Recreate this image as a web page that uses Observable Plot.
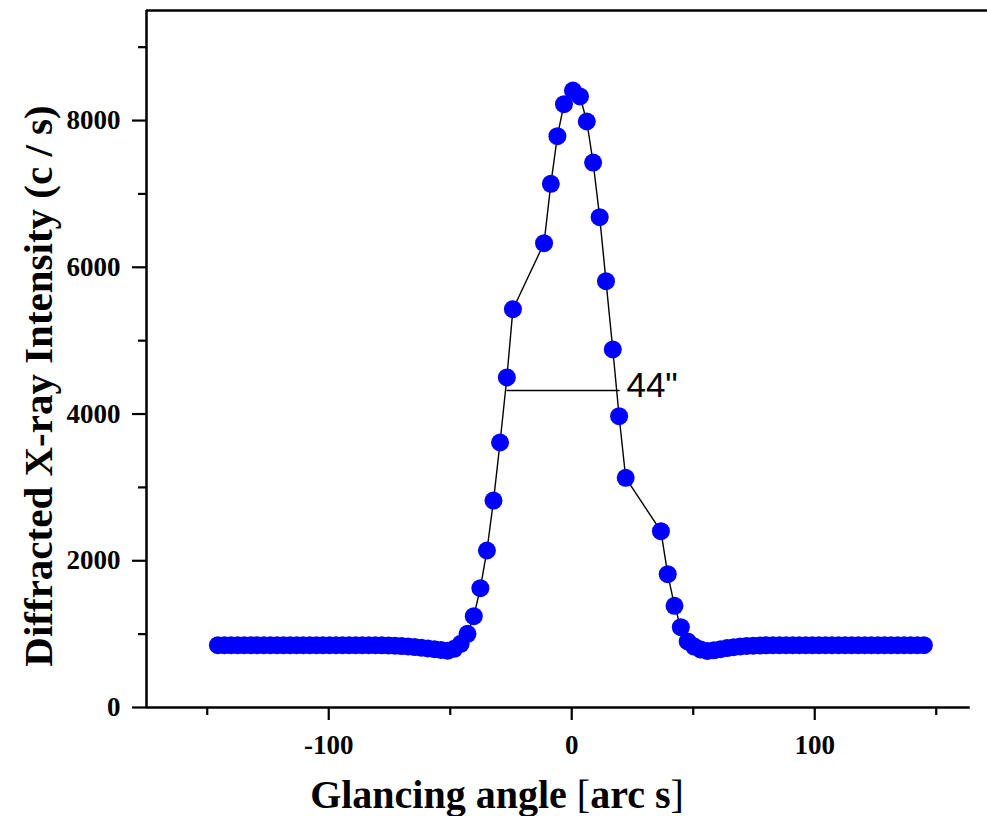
<!DOCTYPE html>
<html>
<head>
<meta charset="utf-8">
<script src="https://cdn.jsdelivr.net/npm/d3@7"></script>
<script src="https://cdn.jsdelivr.net/npm/@observablehq/plot@0.6"></script>
<style>
  html, body { margin: 0; padding: 0; background: #fff; }
  #chart svg { display: block; }
</style>
</head>
<body>
<div id="chart"></div>
<script>
// ---- data ----
const angles = [
  -145.6, -142.9, -140.2, -137.5, -134.8, -132.1, -129.4, -126.7, -124.0, -121.3,
  -118.6, -115.9, -113.2, -110.5, -107.8, -105.1, -102.4, -99.7, -97.0, -94.3,
  -91.6, -88.9, -86.2, -83.5, -80.8, -78.1, -75.4, -72.7, -70.0, -67.3,
  -64.6, -61.9, -59.2, -56.5, -53.8, -51.1, -48.4,
  -45.7, -42.9, -40.3, -37.6, -34.9, -32.2, -29.5, -26.7, -24.2,
  -11.4, -8.6, -5.9, -3.2, 0.5, 3.4, 6.2, 8.8, 11.5, 14.1, 16.9, 19.5, 22.2,
  36.7, 39.5, 42.3, 44.9,
  47.7, 50.4, 53.1, 55.8, 58.5, 61.2, 63.9, 66.6, 69.3, 72.0,
  74.7, 77.4, 80.1, 82.8, 85.5, 88.2, 90.9, 93.6, 96.3, 99.0,
  101.7, 104.4, 107.1, 109.8, 112.5, 115.2, 117.9, 120.6, 123.3, 126.0,
  128.7, 131.4, 134.1, 136.8, 139.5, 142.2, 144.9
];
const intensity = [
  850, 850, 850, 850, 850, 850, 850, 850, 850, 850,
  850, 850, 850, 850, 850, 850, 850, 850, 850, 850,
  850, 850, 850, 850, 849, 848, 846, 843, 838, 832,
  824, 815, 805, 795, 785, 775, 800,
  868, 1004, 1244, 1626, 2140, 2820, 3612, 4498, 5429,
  6328, 7138, 7787, 8223, 8409, 8328, 7987, 7428, 6683, 5811, 4880, 3970, 3131,
  2403, 1817, 1386, 1094,
  900, 830, 790, 770, 780, 795, 810, 822, 832, 839,
  843, 846, 848, 849, 850, 850, 850, 850, 850, 850,
  850, 850, 850, 850, 850, 850, 850, 850, 850, 850,
  850, 850, 850, 850, 850, 850, 850
];

// FWHM annotation
const fwhmAngles = [-26.6, 19.5];
const fwhmLevel = [4321, 4321];
const fwhmLabel = "44\"";
const fwhmLabelAngle = [22.5];
const fwhmLabelLevel = [4390];

// axes
const xDomain = [-175, 171.1];
const yDomain = [0, 9500];
const xMajorTicks = [-100, 0, 100];
const xMinorTicks = [-150, -50, 50, 150];
const yMajorTicks = [0, 2000, 4000, 6000, 8000];
const yMinorTicks = [1000, 3000, 5000, 7000, 9000];
const xAxisEnd = 164;
const xLabel = "Glancing angle [arc s]";
const yLabel = "Diffracted X-ray Intensity (c / s)";

const points = angles.map((a, i) => ({angle: a, value: intensity[i]}));
const fwhm = fwhmAngles.map((a, i) => ({angle: a, value: fwhmLevel[i]}));

const serif = "'Liberation Serif', 'Times New Roman', serif";
const sans = "'Liberation Sans', Arial, sans-serif";

const chart = Plot.plot({
  width: 987,
  height: 816,
  marginLeft: 146,
  marginRight: 0,
  marginTop: 10,
  marginBottom: 109,
  x: {domain: xDomain},
  y: {domain: yDomain},
  style: {fontFamily: serif, background: "#fff", color: "#000", overflow: "visible"},
  marks: [
    // frame lines
    Plot.ruleX([xDomain[0]], {stroke: "#000", strokeWidth: 2.5}),
    Plot.ruleY([yDomain[0]], {x1: xDomain[0], x2: xAxisEnd, stroke: "#000", strokeWidth: 2.5}),
    Plot.ruleY([yDomain[1]], {stroke: "#000", strokeWidth: 2.5}),
    // axes
    Plot.axisX({ticks: xMajorTicks, tickSize: 13, tickPadding: 14, tickFormat: d => String(d),
      fontSize: 27, fontWeight: "bold", strokeWidth: 2.2, label: null}),
    Plot.axisX({ticks: xMinorTicks, tickSize: 8, tickFormat: () => "", strokeWidth: 2.2, label: null}),
    Plot.axisY({ticks: yMajorTicks, tickSize: 14, tickPadding: 12, tickFormat: d => String(d),
      fontSize: 27, fontWeight: "bold", strokeWidth: 2.2, label: null}),
    Plot.axisY({ticks: yMinorTicks, tickSize: 8, tickFormat: () => "", strokeWidth: 2.2, label: null}),
    // data
    Plot.line(points, {x: "angle", y: "value", stroke: "#000", strokeWidth: 1.4}),
    Plot.dot(points, {x: "angle", y: "value", r: 9, fill: "#0000ff", stroke: "none"}),
    // annotation
    Plot.line(fwhm, {x: "angle", y: "value", stroke: "#000", strokeWidth: 1.4}),
    Plot.text([fwhmLabel], {x: fwhmLabelAngle, y: fwhmLabelLevel, text: d => d, textAnchor: "start",
      lineAnchor: "middle", fontSize: 35, fontFamily: sans, fill: "#000"}),
    // axis titles
    Plot.text([xLabel], {frameAnchor: "bottom", text: d => d, dx: -70, dy: 88, fontSize: 40,
      fontWeight: "bold", textAnchor: "middle", lineAnchor: "middle", fill: "#000", fontFamily: serif}),
    Plot.text([yLabel], {frameAnchor: "left", text: d => d, rotate: -90, dx: -108, dy: 27, fontSize: 41,
      fontWeight: "bold", textAnchor: "middle", lineAnchor: "middle", fill: "#000", fontFamily: serif})
  ]
});

document.getElementById("chart").appendChild(chart);

// brackets in the x title are drawn in regular weight
d3.select(chart).selectAll("text").filter(function() { return this.textContent === xLabel; })
  .each(function() {
    const t = d3.select(this);
    t.text(null);
    const parts = xLabel.split(/([\[\]])/).filter(s => s.length);
    parts.forEach(p => {
      t.append("tspan").attr("font-weight", (p === "[" || p === "]") ? "normal" : "bold").text(p);
    });
  });
</script>
</body>
</html>
